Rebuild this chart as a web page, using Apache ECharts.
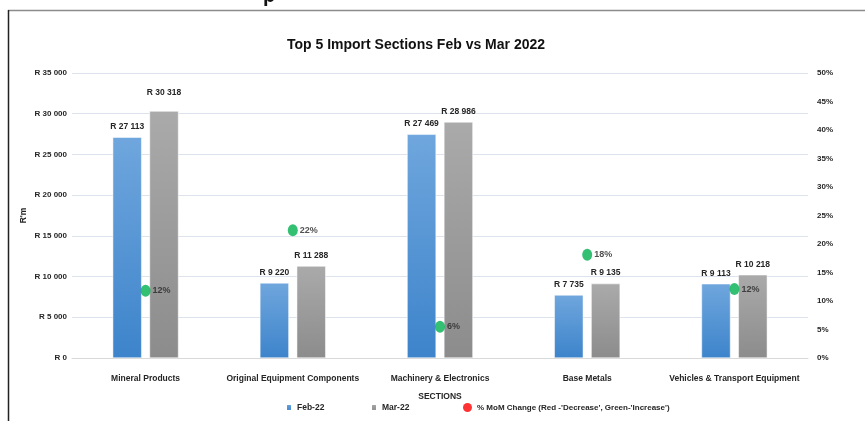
<!DOCTYPE html>
<html>
<head>
<meta charset="utf-8">
<script src="https://cdn.jsdelivr.net/npm/echarts@6/dist/echarts.min.js"></script>
<style>
html,body{margin:0;padding:0;background:#fff;}
#chart{width:865px;height:421px;}
</style>
</head>
<body>
<div id="chart"></div>
<script>
const categories = ['Mineral Products','Original Equipment Components','Machinery & Electronics','Base Metals','Vehicles & Transport Equipment'];
const feb22 = [27113, 9220, 27469, 7735, 9113];
const mar22 = [30318, 11288, 28986, 9135, 10218];
const momChange = [11.8, 22.4, 5.5, 18.1, 12.1];
const leftTicks = {min: 0, max: 35000, interval: 5000};
const rightTicks = {min: 0, max: 50, interval: 5};

const FONT = "'Liberation Sans Narrow', 'Liberation Sans', Arial, sans-serif";
function rand(v){ return 'R ' + String(v).replace(/\B(?=(\d{3})+(?!\d))/g, ' '); }

const chart = echarts.init(document.getElementById('chart'), null, {renderer:'canvas'});
const txt = {fontFamily: FONT, fontWeight: 'bold', color: '#262626', fontSize: 8.5};

chart.setOption({
  animation: false,
  backgroundColor: '#fff',
  title: {
    text: 'Top 5 Import Sections Feb vs Mar 2022',
    left: 282, top: 33,
    textStyle: {fontFamily: FONT, fontWeight: 'bold', fontSize: 14, color: '#111'}
  },
  graphic: [
    {type: 'line', shape: {x1: 8, y1: 10.5, x2: 865, y2: 10.5}, style: {stroke: '#8c8c8c', lineWidth: 1.5}},
    {type: 'line', shape: {x1: 8.5, y1: 10, x2: 8.5, y2: 421}, style: {stroke: '#222', lineWidth: 1.5}},
    {type: 'text', left: 263, top: -14, style: {text: 'p', font: 'bold 20px ' + FONT, fill: '#111'}}
  ],
  legend: [
    {data: ['Feb-22'], left: 280, top: 398, itemWidth: 6, itemHeight: 7, itemGap: 4, textStyle: {...txt, fontSize: 8.5}},
    {data: ['Mar-22'], left: 365, top: 398, itemWidth: 6, itemHeight: 7, itemGap: 4, textStyle: {...txt, fontSize: 8.5}},
    {data: [{name: '% MoM Change (Red -\'Decrease\', Green-\'Increase\')', icon: 'circle'}], left: 458, top: 398, itemWidth: 9, itemHeight: 9, textStyle: {...txt, fontSize: 8}}
  ],
  grid: {left: 72, right: 57, top: 73, bottom: 63},
  xAxis: {
    type: 'category', data: categories,
    name: 'SECTIONS', nameLocation: 'middle', nameGap: 34,
    nameTextStyle: {...txt, fontSize: 8.5},
    axisLine: {lineStyle: {color: '#d9d9d9'}},
    axisTick: {show: false},
    axisLabel: {...txt, fontSize: 8.5, margin: 16, interval: 0}
  },
  yAxis: [
    {
      type: 'value', min: leftTicks.min, max: leftTicks.max, interval: leftTicks.interval,
      name: "R'm", nameLocation: 'middle', nameGap: 44, nameRotate: 90, nameMoveOverlap: false,
      nameTextStyle: {...txt, fontSize: 8.5},
      axisLabel: {...txt, fontSize: 8, margin: 5, formatter: v => rand(v)},
      splitLine: {lineStyle: {color: '#dde3ec', width: 1.2}},
      axisLine: {show: false}, axisTick: {show: false}
    },
    {
      type: 'value', min: rightTicks.min, max: rightTicks.max, interval: rightTicks.interval,
      axisLabel: {...txt, fontSize: 8, margin: 9, formatter: v => v + '%'},
      splitLine: {show: false}, axisLine: {show: false}, axisTick: {show: false}
    }
  ],
  series: [
    {
      name: 'Feb-22', type: 'bar', data: feb22, barWidth: 29, barGap: '27%',
      itemStyle: {color: new echarts.graphic.LinearGradient(0,0,0,1,[{offset:0,color:'#6fa6dd'},{offset:1,color:'#3d84cb'}]), borderColor: '#fff', borderWidth: 0.5},
      label: {show: true, position: 'top', distance: 6, ...txt, fontSize: 8.5, formatter: p => rand(p.value)}
    },
    {
      name: 'Mar-22', type: 'bar', barWidth: 29, barGap: '27%',
      data: mar22.map((v,i) => i === 0 ? {value: v, label: {distance: 14}} : v),
      itemStyle: {color: new echarts.graphic.LinearGradient(0,0,0,1,[{offset:0,color:'#aaaaaa'},{offset:1,color:'#8c8c8c'}]), borderColor: '#fff', borderWidth: 0.5},
      label: {show: true, position: 'top', distance: 6, ...txt, fontSize: 8.5, formatter: p => rand(p.value)}
    },
    {
      name: '% MoM Change (Red -\'Decrease\', Green-\'Increase\')', type: 'scatter', yAxisIndex: 1,
      data: momChange.map(v => ({value: v, itemStyle: {color: '#00b050'}})),
      symbol: 'circle', symbolSize: [10, 12],
      itemStyle: {color: '#ff0000'},
      label: {show: true, position: 'right', distance: 2, ...txt, fontSize: 9, formatter: p => Math.round(p.value) + '%'},
      z: 5
    }
  ]
});
</script>
</body>
</html>
